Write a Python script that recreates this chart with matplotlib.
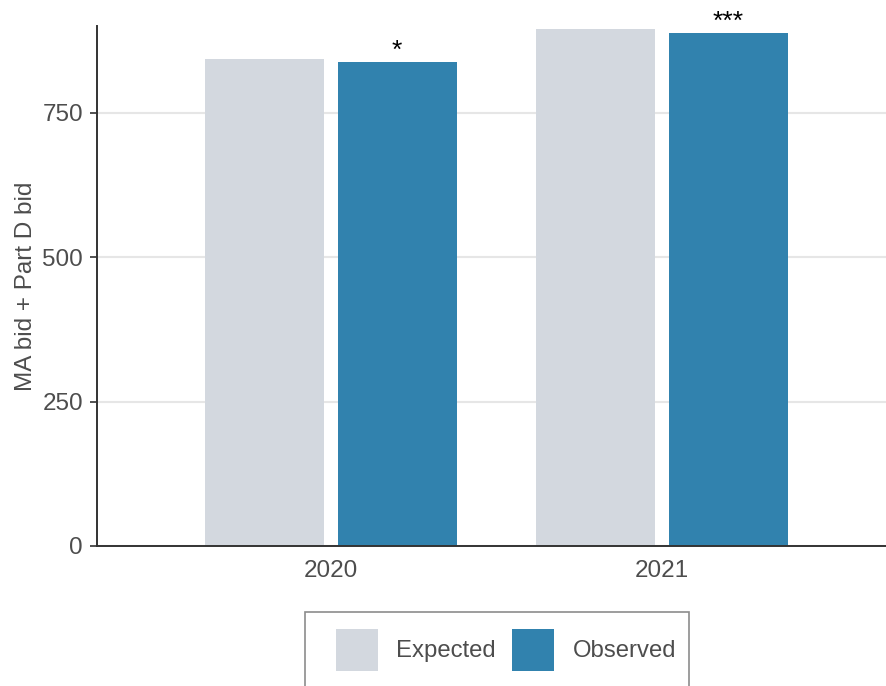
import matplotlib
matplotlib.use("Agg")
import matplotlib.pyplot as plt
from matplotlib.patches import Patch, Rectangle
import numpy as np

years = ["2020", "2021"]
expected = [843, 894]
observed = [837, 888]
significance = ["*", "***"]
series_labels = ["Expected", "Observed"]
colors = ["#d3d8df", "#3182ae"]
y_ticks = [0, 250, 500, 750]

plt.rcParams["font.family"] = ["Liberation Sans", "DejaVu Sans"]
text_gray = "#4d4d4d"

fig = plt.figure(figsize=(8.86, 6.86), dpi=100)
ax = fig.add_axes([97 / 886, 1 - 546 / 686, 1 - 97 / 886, (546 - 26) / 686])

x = np.arange(len(years))
offset = 0.2
width = 0.36
ax.bar(x - offset, expected, width, color=colors[0], zorder=2)
bars_obs = ax.bar(x + offset, observed, width, color=colors[1], zorder=2)

for rect, sig in zip(bars_obs, significance):
    ax.annotate(sig, (rect.get_x() + rect.get_width() / 2, rect.get_height()),
                xytext=(0, 3), textcoords="offset points", ha="center",
                va="baseline", fontsize=19, color="black")

ax.set_xlim(-0.707, 1.677)
ax.set_ylim(0, 900)
ax.set_xticks(x)
ax.set_xticklabels(years)
ax.set_yticks(y_ticks)
ax.set_yticklabels([str(t) for t in y_ticks])
ax.tick_params(axis="x", length=0, pad=10, labelsize=17.5, labelcolor=text_gray)
ax.tick_params(axis="y", length=5, width=1.2, pad=5, labelsize=17.5,
               labelcolor=text_gray, color="#333333")

for side in ["top", "right"]:
    ax.spines[side].set_visible(False)
for side in ["left", "bottom"]:
    ax.spines[side].set_linewidth(1.4)
    ax.spines[side].set_color("#333333")

ax.yaxis.grid(True, color="#e6e6e6", linewidth=1.5, zorder=0)
ax.set_axisbelow(True)
ax.set_ylabel("MA bid + Part D bid", fontsize=17.5, color=text_gray, labelpad=4)

handles = [Patch(facecolor=c, edgecolor="none", label=l) for c, l in zip(colors, series_labels)]
fig.legend(handles=handles, loc="center", bbox_to_anchor=(506 / 886, 1 - 650 / 686),
           ncol=2, frameon=False, fontsize=17.2, handlelength=1.76, handleheight=2.3,
           handletextpad=0.75, columnspacing=0.7, labelcolor=text_gray)
fig.patches.append(Rectangle((305 / 886, -0.01), (689 - 305) / 886, (686 - 612) / 686 + 0.01,
                             transform=fig.transFigure, fill=False,
                             edgecolor="#8c8c8c", linewidth=1.2))

fig.savefig("out.png", dpi=100)
